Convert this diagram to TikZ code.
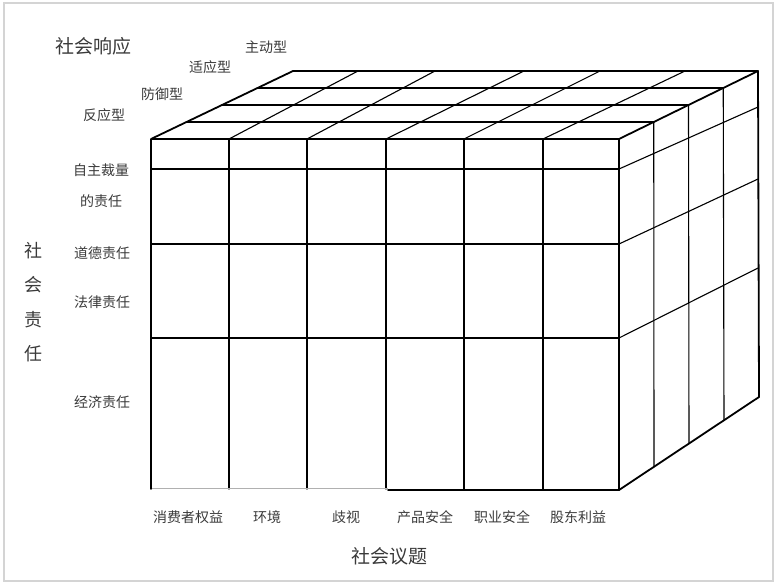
\documentclass[tikz,border=0pt]{standalone}
\usepackage{fontspec}
\usetikzlibrary{calc}
\newfontfamily\cjk{Noto Sans CJK SC}
\definecolor{txt}{HTML}{3A3A3A}
\definecolor{framegray}{HTML}{D4D4D4}
\definecolor{faint}{HTML}{B0B0B0}
\begin{document}
\begin{tikzpicture}[x=1pt,y=-1pt,
  lbl/.style={font=\cjk\fontsize{14}{14}\selectfont, text=txt, inner sep=0pt},
  ttl/.style={font=\cjk\fontsize{19}{19}\selectfont, text=txt, inner sep=0pt},
  outl/.style={line width=1.8pt, line join=round, line cap=round},
  innr/.style={line width=1.1pt, line cap=round},
  midl/.style={line width=1.5pt, line cap=round},
]
\useasboundingbox (0,0) rectangle (777,584);
\draw[framegray, line width=1.5pt] (4,3) rectangle (773,581);

% corners
\coordinate (FTL) at (151,139);
\coordinate (FTR) at (619,139);
\coordinate (FBL) at (151,489);
\coordinate (FBR) at (619,490);
\coordinate (BTL) at (293,71);
\coordinate (BTR) at (758,71);
\coordinate (BBR) at (759,397);

% front face verticals (interior)
\foreach \x in {229,307,386,464,543}
  \draw[innr] (\x,139) -- (\x,489);
% front face horizontals
\draw[innr] (151,169) -- (619,169);
\draw[midl] (151,244) -- (619,244);
\draw[midl] (151,338) -- (619,338);
% bottom front edge
\draw[faint, line width=0.8pt] (151,488) -- (388,488);
\draw[outl] (388,490) -- (FBR);

% top face slanted lines (front issue columns going back)
\foreach \f/\b in {229/358,307/435,386/524,464/600,543/685}
  \draw[innr] (\f,139) -- (\b,71);
% top face depth lines
\foreach \k in {1,2,3}
  \draw[midl] ($(FTL)!\k/4!(BTL)$) -- ($(FTR)!\k/4!(BTR)$);

% right face verticals
\foreach \k in {1,2,3}
  \draw[innr] ($(FTR)!\k/4!(BTR)$) -- ($(FBR)!\k/4!(BBR)$);
% right face horizontals
\draw[innr] (619,169) -- (758,107);
\draw[innr] (619,244) -- (758,179);
\draw[innr] (619,338) -- (758,268);

% outlines
\draw[outl] (FBL) -- (FTL) -- (FTR) -- (FBR) -- (BBR) -- (BTR) -- (BTL) -- (FTL);
\draw[outl] (FTR) -- (BTR);

% labels: social response
\node[ttl] (resp) at (93,46) {社会响应};
\node[lbl] (r4) at (266,47) {主动型};
\node[lbl] (r3) at (210,67) {适应型};
\node[lbl] (r2) at (162,94) {防御型};
\node[lbl] (r1) at (104,115) {反应型};

% labels: social responsibility
\node[lbl] (d1a) at (101,170) {自主裁量};
\node[lbl] (d1b) at (101,201) {的责任};
\node[lbl] (d2) at (102,253) {道德责任};
\node[lbl] (d3) at (102,302) {法律责任};
\node[lbl] (d4) at (102,402) {经济责任};
\node[font=\cjk\fontsize{18}{34.5}\selectfont, text=txt, inner sep=0pt, align=center] (resp2) at (33,302) {社\\会\\责\\任};

% labels: social issues
\node[lbl] (i1) at (188,517) {消费者权益};
\node[lbl] (i2) at (267,517) {环境};
\node[lbl] (i3) at (346,517) {歧视};
\node[lbl] (i4) at (425,517) {产品安全};
\node[lbl] (i5) at (502,517) {职业安全};
\node[lbl] (i6) at (578,517) {股东利益};
\node[ttl] (iss) at (389,556) {社会议题};
\end{tikzpicture}
\end{document}
